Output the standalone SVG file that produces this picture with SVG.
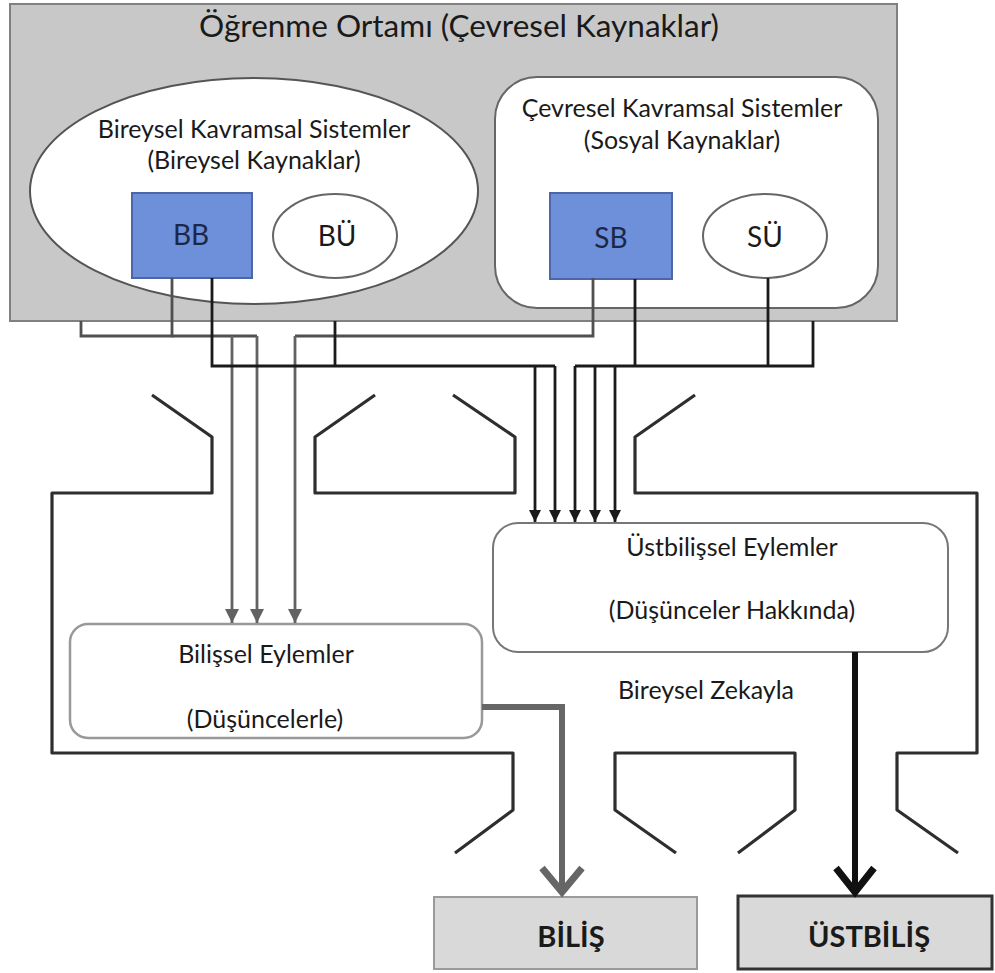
<svg xmlns="http://www.w3.org/2000/svg" width="995" height="973" viewBox="0 0 995 973">
<defs>
<style>
text{font-family:"Lato","Liberation Sans",sans-serif;fill:#1a1a1a;text-anchor:middle}
.lbl{font-size:25px}
.big{font-size:31.5px}
.node{font-size:28px}
.navy{fill:#1b2747}
.res{font-size:29px;font-weight:bold}
.frame{fill:none;stroke:#2e2e2e;stroke-width:3.2;stroke-linejoin:round}
.netA{fill:none;stroke:#505050;stroke-width:2.8}
.netB{fill:none;stroke:#1a1a1a;stroke-width:2.8}
.arrA{fill:none;stroke:#626262;stroke-width:2.8}
.arrB{fill:none;stroke:#1a1a1a;stroke-width:2.8}
.blue{fill:#6e8fd9;stroke:#4d66a8;stroke-width:2}
</style>
<marker id="hA" markerUnits="userSpaceOnUse" markerWidth="16" markerHeight="14" refX="14" refY="7" orient="auto">
<path d="M0,0 L14,7 L0,14 Z" fill="#626262"/>
</marker>
<marker id="hB" markerUnits="userSpaceOnUse" markerWidth="14" markerHeight="14" refX="12" refY="6" orient="auto">
<path d="M0,0 L12,6 L0,12 Z" fill="#1a1a1a"/>
</marker>
</defs>
<rect width="995" height="973" fill="#fff"/>

<g id="ogrenme-ortami">
<rect x="10" y="4" width="887" height="317" fill="#c8c8c8" stroke="#808080" stroke-width="2"/>
<text class="big" x="459" y="37">Öğrenme Ortamı (Çevresel Kaynaklar)</text>
</g>

<g id="bireysel-sistemler">
<ellipse cx="254" cy="191" rx="224" ry="113" fill="#fff" stroke="#555" stroke-width="2"/>
<text class="lbl" x="254" y="138">Bireysel Kavramsal Sistemler</text>
<text class="lbl" x="254" y="169">(Bireysel Kaynaklar)</text>
</g>

<g id="cevresel-sistemler">
<rect x="495" y="77" width="383" height="231" rx="42" fill="#fff" stroke="#666" stroke-width="2"/>
<text class="lbl" x="682" y="117">Çevresel Kavramsal Sistemler</text>
<text class="lbl" x="682" y="149">(Sosyal Kaynaklar)</text>
</g>

<g id="BB">
<rect class="blue" x="132" y="193" width="120" height="85"/>
<text class="node navy" x="191" y="245">BB</text>
</g>
<g id="BU">
<ellipse cx="335" cy="236" rx="62" ry="42" fill="#fff" stroke="#666" stroke-width="2"/>
<text class="node" x="337" y="246">BÜ</text>
</g>
<g id="SB">
<rect class="blue" x="550" y="193" width="122" height="86"/>
<text class="node navy" x="611" y="248">SB</text>
</g>
<g id="SU">
<ellipse cx="765" cy="236" rx="62" ry="42" fill="#fff" stroke="#666" stroke-width="2"/>
<text class="node" x="765" y="247">SÜ</text>
</g>

<g id="bireysel-zeka">
<path class="frame" d="M152,395 L212,437 L212,493 L52,493 L52,753 L513,753 L513,810 L455,853"/>
<path class="frame" d="M375,395 L315,437 L315,493 L515,493 L515,437 L453,395"/>
<path class="frame" d="M695,395 L635,437 L635,493 L977,493 L977,753 L897,753 L897,810 L958,853"/>
<path class="frame" d="M676,853 L615,810 L615,753 L795,753 L795,810 L738,853"/>
<text class="lbl" x="706" y="699">Bireysel Zekayla</text>
</g>

<g id="bilissel-eylemler">
<rect x="70" y="624" width="412" height="114" rx="18" fill="#fff" stroke="#999" stroke-width="2.5"/>
<text class="lbl" x="266" y="663">Bilişsel Eylemler</text>
<text class="lbl" x="265" y="728">(Düşüncelerle)</text>
</g>

<g id="ustbilissel-eylemler">
<rect x="493" y="523" width="455" height="129" rx="25" fill="#fff" stroke="#777" stroke-width="2"/>
<text class="lbl" x="732" y="556">Üstbilişsel Eylemler</text>
<text class="lbl" x="732" y="619">(Düşünceler Hakkında)</text>
</g>

<g id="bilis">
<rect x="434" y="897" width="263" height="72" fill="#d9d9d9" stroke="#9a9a9a" stroke-width="2"/>
<text class="res" x="571" y="947">BİLİŞ</text>
</g>
<g id="ustbilis">
<rect x="738" y="896" width="254" height="73" fill="#d9d9d9" stroke="#333" stroke-width="3"/>
<text class="res" x="869" y="947">ÜSTBİLİŞ</text>
</g>

<g id="connectors">
<path class="netA" d="M172,278 L172,336 L81,336 L81,321"/>
<path class="netA" d="M172,336 L257,336"/>
<path class="netA" d="M593,278 L593,336 L295,336"/>
<path class="arrA" d="M232,336 L232,623" marker-end="url(#hA)"/>
<path class="arrA" d="M257,336 L257,623" marker-end="url(#hA)"/>
<path class="arrA" d="M295,336 L295,623" marker-end="url(#hA)"/>
<path class="netB" d="M212,278 L212,366 L555,366"/>
<path class="netB" d="M335,321 L335,366"/>
<path class="netB" d="M575,366 L813,366 L813,321"/>
<path class="netB" d="M635,279 L635,366"/>
<path class="netB" d="M768,278 L768,366"/>
<path class="arrB" d="M535,366 L535,522" marker-end="url(#hB)"/>
<path class="arrB" d="M555,366 L555,522" marker-end="url(#hB)"/>
<path class="arrB" d="M575,366 L575,522" marker-end="url(#hB)"/>
<path class="arrB" d="M595,366 L595,522" marker-end="url(#hB)"/>
<path class="arrB" d="M615,366 L615,522" marker-end="url(#hB)"/>
<path d="M482,707 L562,707 L562,892" fill="none" stroke="#666" stroke-width="6" stroke-linejoin="miter"/>
<path d="M542,868 L562,892 L582,868" fill="none" stroke="#666" stroke-width="7" stroke-linejoin="miter"/>
<path d="M855,652 L855,892" fill="none" stroke="#111" stroke-width="6"/>
<path d="M836,868 L855,892 L874,868" fill="none" stroke="#111" stroke-width="7" stroke-linejoin="miter"/>
</g>
</svg>
